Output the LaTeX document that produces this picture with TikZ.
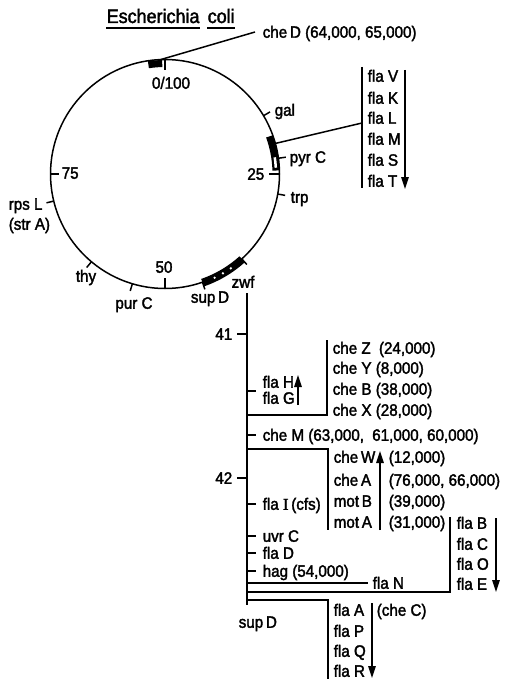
\documentclass[tikz,border=0pt]{standalone}
\usepackage{fontspec}
\setmainfont{Liberation Sans}[FakeStretch=0.92,FakeBold=2]
\newfontfamily\serifI{Liberation Serif}[FakeBold=2]
\usetikzlibrary{arrows.meta,calc}
\begin{document}
\begin{tikzpicture}[x=1pt,y=-1pt,line width=1.5pt,
  lab/.style={inner sep=0pt,anchor=west,text height=11.5pt,text depth=0pt,font=\fontsize{16.5}{18}\selectfont},
  ttl/.style={lab,font=\fontsize{19.5}{22}\selectfont,text height=14pt},
  tip/.style={-{Triangle[length=12pt,width=7.5pt]}},
  blk/.style={line width=7pt,line cap=butt}]
\useasboundingbox (0,0) rectangle (509,679);
\coordinate (C) at (165,174);
\def\R{114.5}
\newcommand\cpt[2]{($(C)+({-90+3.6*(#1)}:#2)$)}
% chromosome circle
\draw (C) circle[radius=\R];
% blocks
\draw[blk] \cpt{97.6}{110.5} arc[start angle={-90+3.6*97.6}, end angle={-90+3.6*99.6}, radius=110.5];
\draw[blk] \cpt{19.5}{111} arc[start angle={-90+3.6*19.5}, end angle={-90+3.6*24.5}, radius=111];
\draw[line width=2.5pt,white] \cpt{22.6}{111} arc[start angle={-90+3.6*22.6}, end angle={-90+3.6*24.1}, radius=111];
\draw[line width=8pt,line cap=butt] \cpt{38.3}{115} arc[start angle={-90+3.6*38.3}, end angle={-90+3.6*44.7}, radius=115];
\foreach \q in {40.3,41.6,42.9} \fill[white] \cpt{\q}{115} circle[radius=1.3];
% ticks on the circle
\draw \cpt{0}{\R} -- \cpt{0}{104};
\draw \cpt{25}{\R} -- \cpt{25}{104};
\draw \cpt{50}{\R} -- \cpt{50}{104};
\draw \cpt{75}{\R} -- \cpt{75}{106};
\foreach \q in {16.5,22.8,27.8,38.3,44.7,54.6,61.1,71.2}
  \draw \cpt{\q}{\R} -- \cpt{\q}{122};
% title
\node[ttl] (esch) at (106,16) {Escherichia};
\node[ttl] (coli) at (207,16) {coli};
\draw[line width=1.6pt] ([yshift=-4pt]esch.south west) -- ([yshift=-4pt]esch.south east);
\draw[line width=1.6pt] ([yshift=-4pt]coli.south west) -- ([yshift=-4pt]coli.south east);
% circle labels
\node[lab] (cheD) at (262,32) {che\,D (64,000, 65,000)};
\node[lab,anchor=center] (m0) at (171,83) {0/100};
\node[lab] (gal) at (274,110) {gal};
\node[lab] (pyrC) at (289,157) {pyr C};
\node[lab,anchor=east] (m25) at (265,174) {25};
\node[lab] (trp) at (290,197) {trp};
\node[lab,anchor=center] (zwf) at (243,282) {zwf};
\node[lab,anchor=center] (supDc) at (210,297) {sup\,D};
\node[lab,anchor=center] (m50) at (164,267) {50};
\node[lab,anchor=center] (purC) at (134,303) {pur C};
\node[lab,anchor=center] (thy) at (86,276) {thy};
\node[lab] (rpsL) at (8,204) {rps L};
\node[lab] (strA) at (8,224) {(str A)};
\node[lab] (m75) at (61,173) {75};
% connectors from blocks
\coordinate (dA) at ($(C)+({-90+3.6*99.4}:\R)$);
\coordinate (dB) at (255,32);
\draw (dA) -- (dB);
\coordinate (pA) at ($(C)+({-90+3.6*20.7}:\R)$);
\coordinate (pB) at (362,123);
\draw (pA) -- (pB);
% fla V ... T list
\coordinate (vT) at (362,67); \coordinate (vB) at (362,188);
\draw (vT) -- (vB);
\foreach \t/\y in {V/76,K/98,L/118,M/139,S/160,T/181}
  \node[lab] (fla\t) at (367,\y) {fla \t};
\coordinate (aVT) at (405,70); \coordinate (aVB) at (405,189);
\draw[tip] (aVT) -- (aVB);
% main segment 41-42
\coordinate (mT) at (247,293); \coordinate (mB) at (247,605);
\draw (mT) -- (mB);
\draw (237,334) -- (247,334);
\draw (237,478) -- (247,478);
\foreach \y in {391,435,504,536,553,571} \draw (247,\y) -- (256,\y);
\node[lab,anchor=east] (m41) at (233,334) {41};
\node[lab,anchor=east] (m42) at (233,478) {42};
\node[lab] (flaH) at (262,382) {fla H};
\node[lab] (flaG) at (262,398) {fla G};
\coordinate (aHB) at (298,405); \coordinate (aHT) at (298,375);
\draw[tip] (aHB) -- (aHT);
% bracket che Z..X
\coordinate (b1a) at (247,415); \coordinate (b1b) at (327,340);
\draw (b1a) -| (b1b);
\node[lab] (cheZ) at (332,348) {che Z\enspace(24,000)};
\node[lab] (cheY) at (332,368) {che Y (8,000)};
\node[lab] (cheB) at (332,389) {che B (38,000)};
\node[lab] (cheX) at (332,410) {che X (28,000)};
\node[lab] (cheM) at (262,435) {che M (63,000,\enspace 61,000, 60,000)};
% bracket che W .. mot A
\coordinate (b2a) at (247,449); \coordinate (b2b) at (328,530);
\draw (b2a) -| (b2b);
\node[lab] (cheW) at (333,457) {che\,W};
\node[lab] (cheA) at (333,480) {che\,A};
\node[lab] (motB) at (333,501) {mot\,B};
\node[lab] (motA) at (333,522) {mot\,A};
\coordinate (aWB) at (380,530); \coordinate (aWT) at (380,451);
\draw[tip] (aWB) -- (aWT);
\node[lab] (nW) at (388,457) {(12,000)};
\node[lab] (nA) at (388,480) {(76,000, 66,000)};
\node[lab] (nB) at (388,501) {(39,000)};
\node[lab] (nM) at (388,522) {(31,000)};
\node[lab] (flaI) at (262,504) {fla {\serifI I}\,(cfs)};
\node[lab] (uvrC) at (262,536) {uvr C};
\node[lab] (flaD) at (262,553) {fla D};
\node[lab] (hag) at (262,571) {hag (54,000)};
% fla N
\coordinate (nNa) at (247,583); \coordinate (nNb) at (368,583);
\draw (nNa) -- (nNb);
\node[lab] (flaN) at (372,583) {fla N};
% bracket fla B .. E
\coordinate (b3a) at (247,592); \coordinate (b3b) at (450,517);
\draw (b3a) -| (b3b);
\foreach \t/\y in {B/523,C/544,O/564,E/584}
  \node[lab] (fla\t) at (456,\y) {fla \t};
\coordinate (aBT) at (496,518); \coordinate (aBB) at (496,592);
\draw[tip] (aBT) -- (aBB);
% bracket fla A .. R
\coordinate (b4a) at (247,600); \coordinate (b4b) at (328,679);
\draw (b4a) -| (b4b);
\foreach \t/\y in {A/610,P/631,Q/651,R/671}
  \node[lab] (fla\t) at (333,\y) {fla \t};
\node[lab] (cheC) at (376,610) {(che C)};
\coordinate (aAT) at (372,603); \coordinate (aAB) at (372,678);
\draw[tip] (aAT) -- (aAB);
\node[lab] (supD) at (238,622) {sup\,D};
\end{tikzpicture}
\end{document}
